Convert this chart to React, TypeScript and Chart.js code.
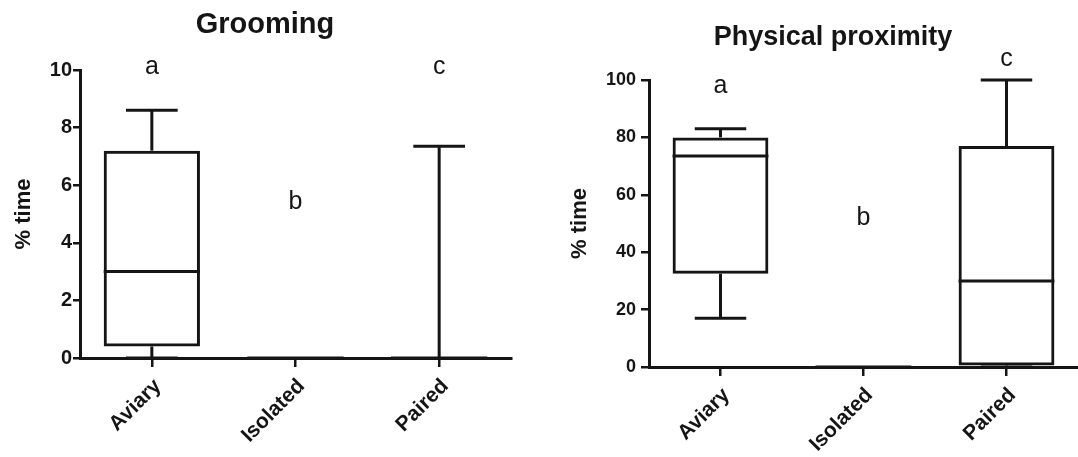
import React, { useEffect, useRef } from "react";
import { Chart, registerables } from "chart.js";

Chart.register(...registerables);

// ---------- data ----------
const categories = ["Aviary", "Isolated", "Paired"];

// Grooming (% time)
const groomMin = [0, 0, 0];
const groomQ1 = [0.4, 0, 0];
const groomMedian = [3.0, 0, 0];
const groomQ3 = [7.2, 0, 0];
const groomMax = [8.6, 0, 7.35];
const groomLetters = ["a", "b", "c"];
const groomLetterY = [10.1, 5.4, 10.1];
const groomTicks = [0, 2, 4, 6, 8, 10];

// Physical proximity (% time)
const proxMin = [17, 0, 0];
const proxQ1 = [32.5, 0, 0.5];
const proxMedian = [73.5, 0, 30];
const proxQ3 = [80, 0, 77];
const proxMax = [83, 0, 100];
const proxLetters = ["a", "b", "c"];
const proxLetterY = [98, 52, 107.4];
const proxTicks = [0, 20, 40, 60, 80, 100];

// ---------- style ----------
const INK = "#151515";
const FAMILY = '"Liberation Sans", Arial, Helvetica, sans-serif';
const LW = 3;

type Spec = {
  title: string;
  min: number[];
  q1: number[];
  median: number[];
  q3: number[];
  max: number[];
  letters: string[];
  letterY: number[];
  ticks: number[];
  canvasWidth: number;
  padLeft: number;
  padRight: number;
  yAxisWidth: number;
  xAxisHeight: number;
  titleSize: number;
  titleCenterY: number;
  chartTop: number;
  yTitleCenterX: number;
  tickLen: number;
  tickPad: number;
  tickFontSize: number;
};

function makeBoxPlugin(spec: Spec) {
  return {
    id: "boxExtras",
    afterDatasetsDraw(chart: any) {
      const xs = chart.scales.x;
      const ys = chart.scales.y;
      const meta = chart.getDatasetMeta(0);
      const ctx = chart.ctx as CanvasRenderingContext2D;
      const catW = xs.getPixelForValue(1) - xs.getPixelForValue(0);
      const capHalf = (catW * 0.36) / 2;
      ctx.save();
      ctx.strokeStyle = INK;
      ctx.lineWidth = LW;
      ctx.lineCap = "butt";
      const line = (x1: number, y1: number, x2: number, y2: number) => {
        ctx.beginPath();
        ctx.moveTo(x1, y1);
        ctx.lineTo(x2, y2);
        ctx.stroke();
      };
      categories.forEach((_, i) => {
        const cx = xs.getPixelForValue(i);
        const bar = meta.data[i];
        const half = bar && bar.width ? bar.width / 2 : catW * 0.335;
        const pMin = ys.getPixelForValue(spec.min[i]);
        const pQ1 = ys.getPixelForValue(spec.q1[i]);
        const pMed = ys.getPixelForValue(spec.median[i]);
        const pQ3 = ys.getPixelForValue(spec.q3[i]);
        const pMax = ys.getPixelForValue(spec.max[i]);
        // median
        line(cx - half, pMed, cx + half, pMed);
        // upper whisker
        if (spec.max[i] > spec.q3[i]) {
          line(cx, pQ3, cx, pMax);
          line(cx - capHalf, pMax, cx + capHalf, pMax);
        }
        // lower whisker
        if (spec.min[i] < spec.q1[i]) {
          line(cx, pQ1, cx, pMin);
          line(cx - capHalf, pMin, cx + capHalf, pMin);
        }
      });
      ctx.restore();
    },
    afterDraw(chart: any) {
      const xs = chart.scales.x;
      const ys = chart.scales.y;
      const ctx = chart.ctx as CanvasRenderingContext2D;
      ctx.save();
      ctx.fillStyle = INK;
      ctx.font = `25px ${FAMILY}`;
      ctx.textAlign = "center";
      ctx.textBaseline = "middle";
      spec.letters.forEach((l, i) => {
        ctx.fillText(l, xs.getPixelForValue(i), ys.getPixelForValue(spec.letterY[i]));
      });
      ctx.restore();
    },
  };
}

function buildConfig(spec: Spec): any {
  const tLine = spec.titleSize * 1.2;
  const tPadTop = spec.titleCenterY - tLine / 2;
  const tPadBottom = spec.chartTop - tPadTop - tLine;
  const yTitleSize = 22;
  const yTitlePad = spec.yTitleCenterX - spec.padLeft - (yTitleSize * 1.2) / 2;
  const ymax = spec.ticks[spec.ticks.length - 1];
  return {
    type: "bar",
    data: {
      labels: categories,
      datasets: [
        {
          data: categories.map((_, i) => [spec.q1[i], spec.q3[i]]),
          backgroundColor: "rgba(255,255,255,0)",
          borderColor: INK,
          borderWidth: LW,
          borderSkipped: false,
          categoryPercentage: 0.67,
          barPercentage: 1.0,
        },
      ],
    },
    options: {
      responsive: false,
      animation: false,
      events: [],
      layout: { padding: { left: spec.padLeft, right: spec.padRight, top: 0, bottom: 0 } },
      plugins: {
        legend: { display: false },
        tooltip: { enabled: false },
        title: {
          display: true,
          text: spec.title,
          color: INK,
          font: { family: FAMILY, size: spec.titleSize, weight: "bold" },
          padding: { top: tPadTop, bottom: tPadBottom },
        },
      },
      scales: {
        x: {
          type: "category",
          offset: true,
          grid: {
            display: true,
            drawOnChartArea: false,
            drawTicks: true,
            tickLength: 9,
            color: INK,
            lineWidth: 2.5,
            offset: false,
          },
          border: { display: true, color: INK, width: LW },
          ticks: {
            color: INK,
            font: { family: FAMILY, size: 21, weight: "bold" },
            minRotation: 45,
            maxRotation: 45,
            autoSkip: false,
            padding: 7,
            labelOffset: 6,
          },
          afterFit: (s: any) => {
            s.height = spec.xAxisHeight;
          },
        },
        y: {
          type: "linear",
          min: 0,
          max: ymax,
          afterBuildTicks: (s: any) => {
            s.ticks = spec.ticks.map((v) => ({ value: v }));
          },
          grid: {
            display: true,
            drawOnChartArea: false,
            drawTicks: true,
            tickLength: spec.tickLen,
            color: INK,
            lineWidth: 2.5,
          },
          border: { display: true, color: INK, width: LW },
          ticks: {
            color: INK,
            font: { family: FAMILY, size: spec.tickFontSize, weight: "bold" },
            padding: spec.tickPad,
          },
          title: {
            display: true,
            text: "% time",
            color: INK,
            font: { family: FAMILY, size: yTitleSize, weight: "bold" },
            padding: { top: yTitlePad, bottom: 0 },
          },
          afterFit: (s: any) => {
            s.width = spec.yAxisWidth;
          },
        },
      },
    },
    plugins: [makeBoxPlugin(spec)],
  };
}

// chartArea left = padLeft + yAxisWidth
const groomingSpec: Spec = {
  title: "Grooming",
  min: groomMin,
  q1: groomQ1,
  median: groomMedian,
  q3: groomQ3,
  max: groomMax,
  letters: groomLetters,
  letterY: groomLetterY,
  ticks: groomTicks,
  canvasWidth: 540,
  padLeft: 19,
  padRight: 29,
  yAxisWidth: 61,
  xAxisHeight: 99,
  titleSize: 29,
  titleCenterY: 25,
  chartTop: 70,
  yTitleCenterX: 24,
  tickLen: 7,
  tickPad: 1,
  tickFontSize: 20,
};

const proximitySpec: Spec = {
  title: "Physical proximity",
  min: proxMin,
  q1: proxQ1,
  median: proxMedian,
  q3: proxQ3,
  max: proxMax,
  letters: proxLetters,
  letterY: proxLetterY,
  ticks: proxTicks,
  canvasWidth: 538,
  padLeft: 48,
  padRight: 0,
  yAxisWidth: 61,
  xAxisHeight: 90,
  titleSize: 27,
  titleCenterY: 38,
  chartTop: 80,
  yTitleCenterX: 40,
  tickLen: 8,
  tickPad: 5,
  tickFontSize: 18,
};

function BoxChart({ spec, left }: { spec: Spec; left: number }) {
  const ref = useRef<HTMLCanvasElement | null>(null);
  useEffect(() => {
    if (!ref.current) return;
    const chart = new Chart(ref.current, buildConfig(spec));
    return () => chart.destroy();
  }, [spec]);
  return (
    <canvas
      ref={ref}
      width={spec.canvasWidth}
      height={457}
      style={{ position: "absolute", left, top: 0, width: spec.canvasWidth, height: 457 }}
    />
  );
}

export default function App() {
  return (
    <div
      style={{
        position: "fixed",
        left: 0,
        top: 0,
        width: 1078,
        height: 457,
        background: "#ffffff",
        overflow: "hidden",
      }}
    >
      <BoxChart spec={groomingSpec} left={0} />
      <BoxChart spec={proximitySpec} left={540} />
    </div>
  );
}
